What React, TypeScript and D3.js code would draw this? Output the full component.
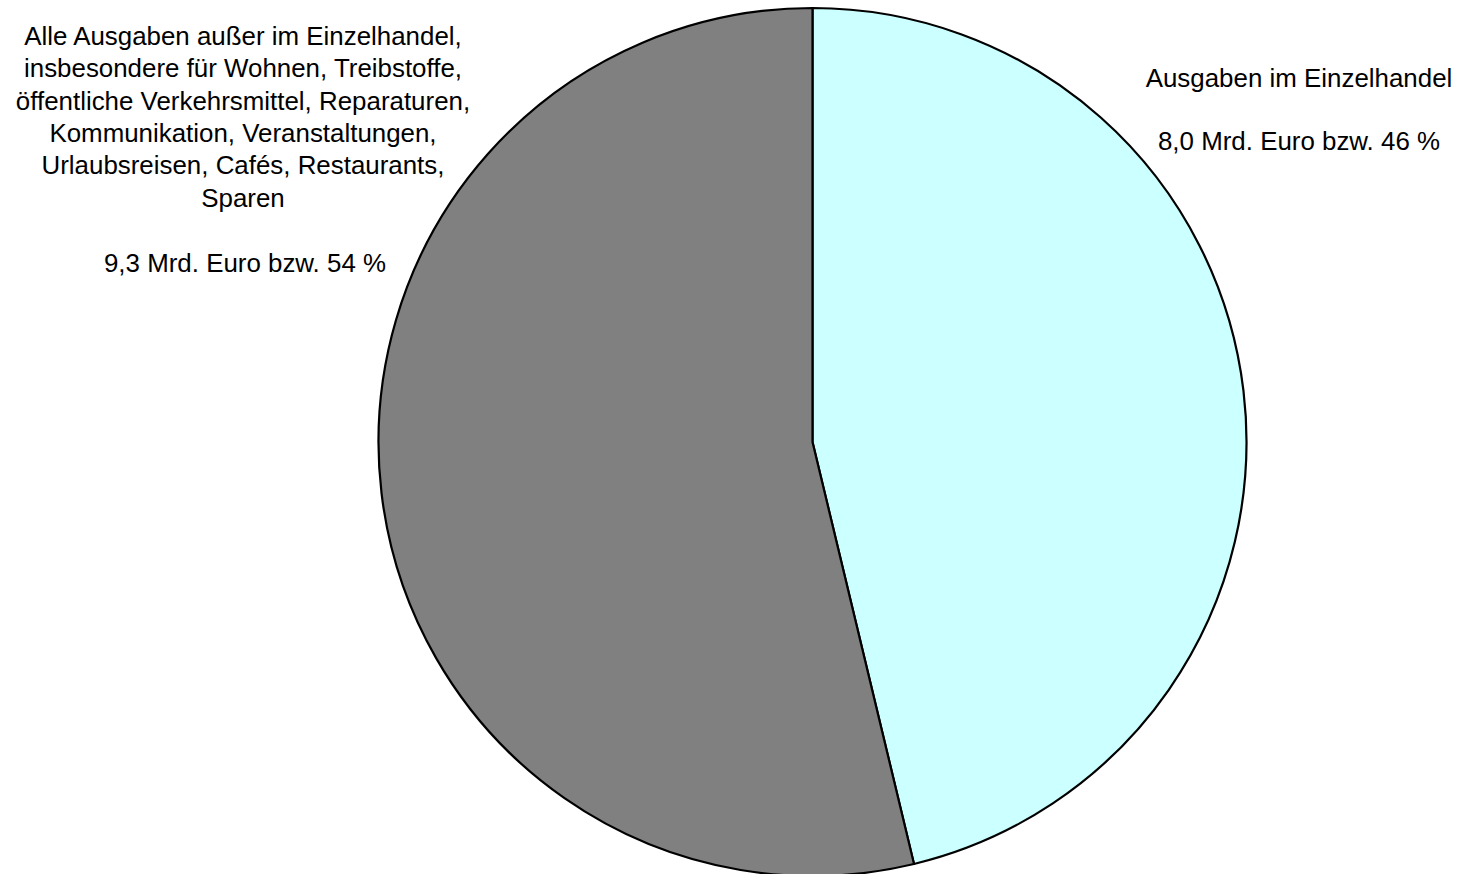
import * as d3 from 'd3';
import { useEffect, useRef } from 'react';

// Slice data (Mrd. Euro)
const categories = ['Ausgaben im Einzelhandel', 'Alle Ausgaben außer im Einzelhandel'];
const values = [8.0, 9.3];
const colors = ['#CCFFFF', '#808080'];

const retailLabel = ['Ausgaben im Einzelhandel', '', '8,0 Mrd. Euro bzw. 46 %'];
const otherLabel = [
    'Alle Ausgaben außer im Einzelhandel,',
    'insbesondere für Wohnen, Treibstoffe,',
    'öffentliche Verkehrsmittel, Reparaturen,',
    'Kommunikation, Veranstaltungen,',
    'Urlaubsreisen, Cafés, Restaurants,',
    'Sparen',
];
const otherValue = '9,3 Mrd. Euro bzw. 54 %';

export default function App() {
    const chartRef = useRef(null);

    useEffect(() => {
        const width = 1461;
        const height = 874;
        const cx = 812.5;
        const cy = 442;
        const radius = 434;
        const fontSize = 25.9;
        const lineH = 32.3;

        const svg = d3
            .select(chartRef.current)
            .append('svg')
            .attr('width', width)
            .attr('height', height)
            .style('position', 'absolute')
            .style('left', 0)
            .style('top', 0)
            .style('font-family', '"Liberation Sans", Arial, sans-serif');

        svg.append('rect').attr('width', width).attr('height', height).attr('fill', '#fff');

        const pie = d3.pie<number>().sort(null).value((d) => d);
        const arc = d3.arc<d3.PieArcDatum<number>>().innerRadius(0).outerRadius(radius);

        const g = svg.append('g').attr('transform', `translate(${cx},${cy})`);
        g.selectAll('path')
            .data(pie(values))
            .join('path')
            .attr('d', arc)
            .attr('fill', (_, i) => colors[i])
            .attr('stroke', '#000')
            .attr('stroke-width', 2.2)
            .attr('stroke-linejoin', 'round')
            .append('title')
            .text((_, i) => categories[i]);

        // Right label
        const right = svg
            .append('text')
            .attr('text-anchor', 'middle')
            .attr('font-size', fontSize)
            .attr('fill', '#000');
        retailLabel.forEach((t, i) => {
            right.append('tspan').attr('x', 1299).attr('y', 87 + i * 31.5).text(t);
        });

        // Left label
        const left = svg
            .append('text')
            .attr('text-anchor', 'middle')
            .attr('font-size', fontSize)
            .attr('fill', '#000');
        otherLabel.forEach((t, i) => {
            left.append('tspan').attr('x', 243).attr('y', 45 + i * lineH).text(t);
        });
        left.append('tspan').attr('x', 245).attr('y', 272).text(otherValue);

        return () => {
            d3.select(chartRef.current).selectAll('*').remove();
        };
    }, []);

    return <div ref={chartRef}></div>;
}
